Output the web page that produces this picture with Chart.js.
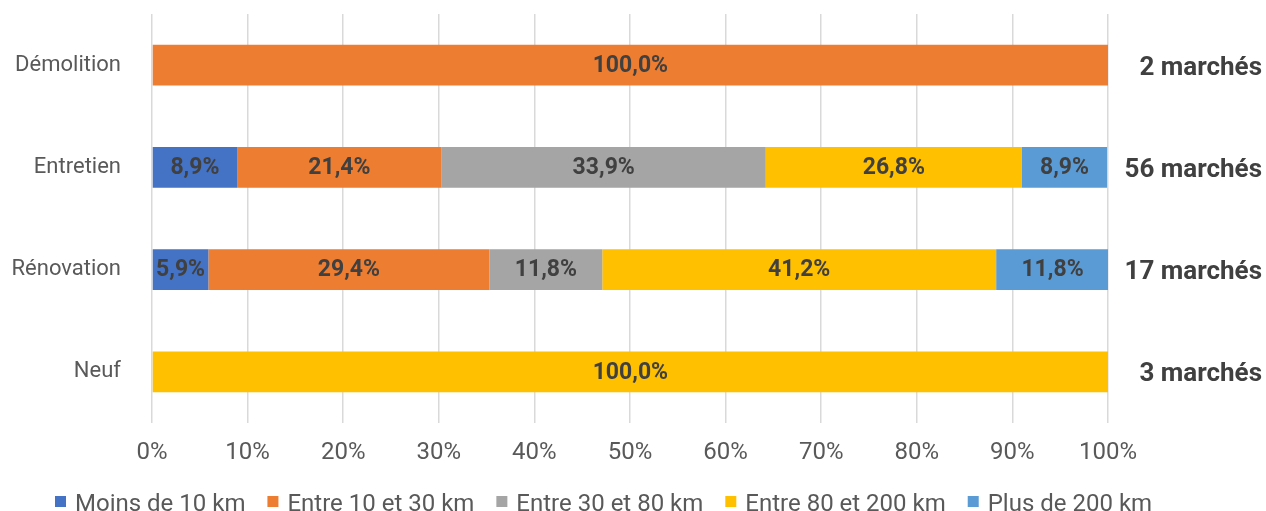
<!DOCTYPE html>
<html lang="fr">
<head>
<meta charset="utf-8">
<title>Marchés par distance</title>
<script src="https://cdn.jsdelivr.net/npm/chart.js@4.4.1/dist/chart.umd.min.js"></script>
<style>
  html, body { margin: 0; padding: 0; background: #fff; overflow: hidden; }
  #wrap { width: 1266px; height: 511px; }
</style>
</head>
<body>
<div id="wrap"><canvas id="graphique"></canvas></div>
<script>
// Types de marché et nombre de marchés par type
const categories = ['Démolition', 'Entretien', 'Rénovation', 'Neuf'];
const nbMarches = ['2 marchés', '56 marchés', '17 marchés', '3 marchés'];

// Répartition (%) par tranche de distance
const moins10 = [0, 8.9, 5.9, 0];
const entre10et30 = [100, 21.4, 29.4, 0];
const entre30et80 = [0, 33.9, 11.8, 0];
const entre80et200 = [0, 26.8, 41.2, 100];
const plus200 = [0, 8.9, 11.8, 0];

const graduations = [0, 10, 20, 30, 40, 50, 60, 70, 80, 90, 100];

const POLICE = 'Roboto, "Open Sans", sans-serif';
Chart.defaults.font.family = POLICE;
Chart.defaults.color = '#595959';

// Étiquettes de valeur au centre de chaque segment
const etiquettesValeurs = {
  id: 'etiquettesValeurs',
  afterDatasetsDraw(chart) {
    const ctx = chart.ctx;
    ctx.save();
    ctx.font = 'bold 23px ' + POLICE;
    ctx.fillStyle = '#404040';
    ctx.textAlign = 'center';
    ctx.textBaseline = 'middle';
    chart.data.datasets.forEach((ds, i) => {
      chart.getDatasetMeta(i).data.forEach((bar, j) => {
        const v = ds.data[j];
        if (!v) return;
        const p = bar.getProps(['x', 'y', 'base'], true);
        ctx.fillText(v.toFixed(1).replace('.', ',') + '%', (p.x + p.base) / 2, p.y + 1);
      });
    });
    ctx.restore();
  }
};

// Nombre de marchés à droite de chaque barre
const totauxDroite = {
  id: 'totauxDroite',
  afterDraw(chart) {
    const ctx = chart.ctx;
    const y = chart.scales.y;
    ctx.save();
    ctx.font = 'bold 26px ' + POLICE;
    ctx.fillStyle = '#404040';
    ctx.textAlign = 'right';
    ctx.textBaseline = 'middle';
    nbMarches.forEach((txt, i) => {
      ctx.fillText(txt, chart.width - 4, y.getPixelForValue(i) + 3);
    });
    ctx.restore();
  }
};

// Légende en bas : carré 11px puis libellé
const legendeBas = {
  id: 'legendeBas',
  afterDraw(chart) {
    const ctx = chart.ctx;
    ctx.save();
    ctx.font = '24px ' + POLICE;
    ctx.textBaseline = 'alphabetic';
    ctx.textAlign = 'left';
    let x = 55;
    chart.data.datasets.forEach(ds => {
      ctx.fillStyle = ds.backgroundColor;
      ctx.fillRect(x, 496, 11, 11);
      ctx.fillStyle = '#595959';
      ctx.fillText(ds.label, x + 20, 511);
      x += 20 + ctx.measureText(ds.label).width + 22;
    });
    ctx.restore();
  }
};

const series = [
  { label: 'Moins de 10 km', data: moins10, backgroundColor: '#4472C4' },
  { label: 'Entre 10 et 30 km', data: entre10et30, backgroundColor: '#ED7D31' },
  { label: 'Entre 30 et 80 km', data: entre30et80, backgroundColor: '#A5A5A5' },
  { label: 'Entre 80 et 200 km', data: entre80et200, backgroundColor: '#FFC000' },
  { label: 'Plus de 200 km', data: plus200, backgroundColor: '#5B9BD5' }
];

new Chart(document.getElementById('graphique'), {
  type: 'bar',
  data: {
    labels: categories,
    datasets: series.map(s => ({
      ...s,
      barPercentage: 0.4,
      categoryPercentage: 1,
      borderWidth: 0
    }))
  },
  options: {
    indexAxis: 'y',
    responsive: true,
    maintainAspectRatio: false,
    animation: false,
    layout: { padding: { top: 14, right: 158, left: 0, bottom: 0 } },
    scales: {
      x: {
        stacked: true,
        min: 0,
        max: 100,
        afterBuildTicks: axis => { axis.ticks = graduations.map(v => ({ value: v })); },
        afterFit: axis => {
          axis.height = 88;
          axis.paddingLeft = 0;
          axis.paddingRight = 0;
        },
        ticks: {
          callback: v => v + '%',
          font: { size: 24 },
          color: '#595959',
          padding: 16,
          maxRotation: 0
        },
        grid: { color: '#d9d9d9', lineWidth: 1.5, drawTicks: false },
        border: { display: false }
      },
      y: {
        stacked: true,
        afterFit: axis => {
          axis.width = 152;
          axis.paddingTop = 0;
          axis.paddingBottom = 0;
        },
        ticks: { font: { size: 22 }, color: '#595959', padding: 23 },
        grid: { display: false },
        border: { display: false }
      }
    },
    plugins: {
      legend: { display: false },
      tooltip: { enabled: false }
    }
  },
  plugins: [etiquettesValeurs, totauxDroite, legendeBas]
});
</script>
</body>
</html>
